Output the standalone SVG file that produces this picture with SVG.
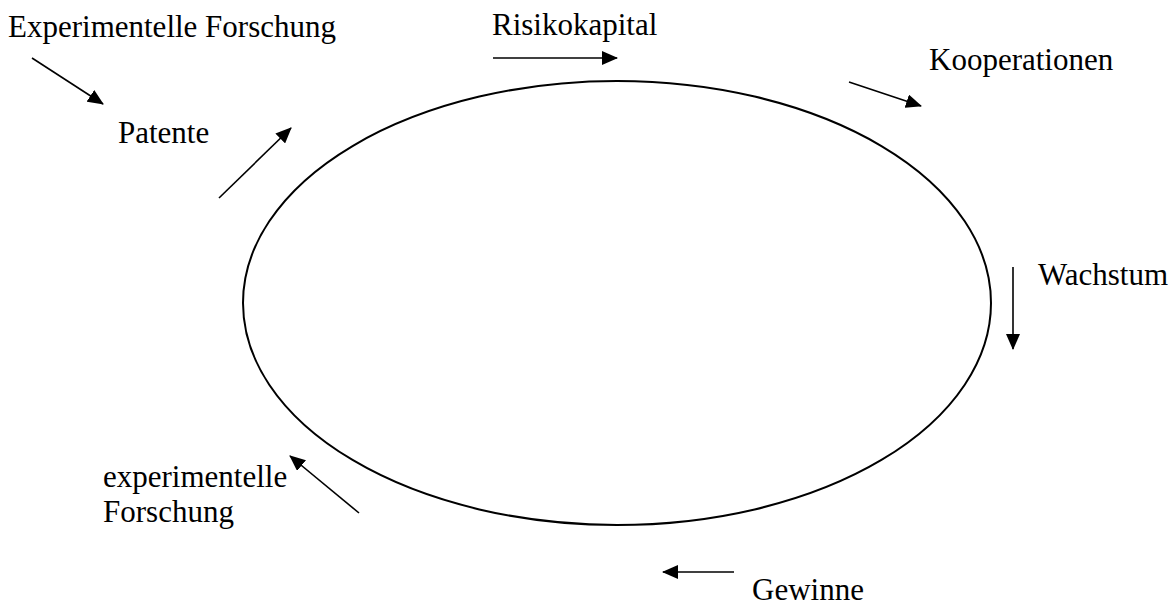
<svg xmlns="http://www.w3.org/2000/svg" width="1174" height="611" viewBox="0 0 1174 611">
<style>
text{font-family:"Liberation Serif","Times New Roman",serif;font-size:31px;fill:#000}
.c{stroke:#000;stroke-width:1.6;fill:none}
</style>
<defs>
<marker id="ah" viewBox="0 0 16 14" refX="15" refY="7" markerWidth="16" markerHeight="14" markerUnits="userSpaceOnUse" orient="auto">
<path d="M0,0 L16,7 L0,14 z" fill="#000"/>
</marker>
</defs>
<rect width="1174" height="611" fill="#fff"/>
<g id="cycle"><ellipse cx="617" cy="303" rx="374" ry="222" fill="none" stroke="#000" stroke-width="2"/></g>
<g id="n1"><text x="8" y="37">Experimentelle Forschung</text></g>
<g id="n2"><text x="118" y="143">Patente</text></g>
<g id="n3"><text x="492" y="35">Risikokapital</text></g>
<g id="n4"><text x="929" y="70">Kooperationen</text></g>
<g id="n5"><text x="1038" y="285">Wachstum</text></g>
<g id="n6"><text x="103" y="487">experimentelle</text><text x="103" y="522">Forschung</text></g>
<g id="n7"><text x="752" y="600">Gewinne</text></g>
<g id="connectors">
<line class="c" x1="32" y1="58" x2="103" y2="104" marker-end="url(#ah)"/>
<line class="c" x1="219" y1="198" x2="291" y2="128" marker-end="url(#ah)"/>
<line class="c" x1="493" y1="58" x2="617" y2="58" marker-end="url(#ah)"/>
<line class="c" x1="849" y1="82" x2="921" y2="106" marker-end="url(#ah)"/>
<line class="c" x1="1013" y1="267" x2="1013" y2="349" marker-end="url(#ah)"/>
<line class="c" x1="734" y1="572" x2="663" y2="572" marker-end="url(#ah)"/>
<line class="c" x1="359" y1="513" x2="290" y2="456" marker-end="url(#ah)"/>
</g>
</svg>
